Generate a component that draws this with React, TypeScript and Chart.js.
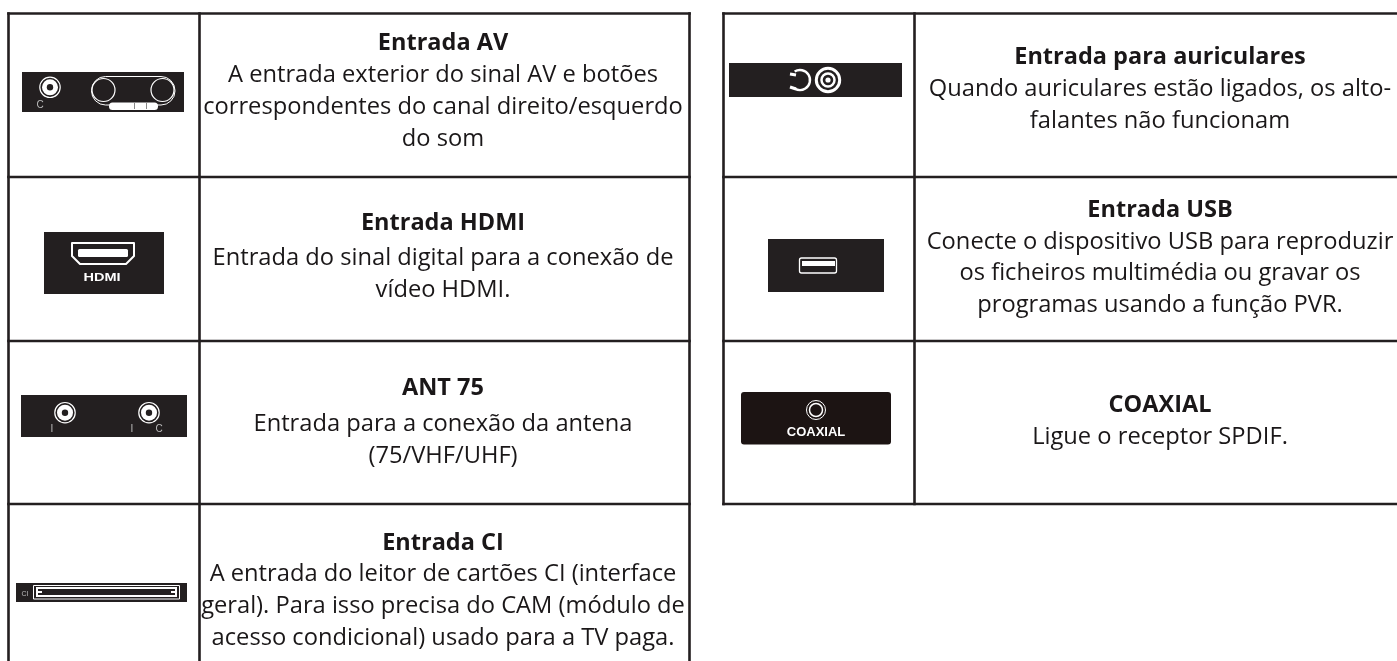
import React, { useEffect, useRef } from "react";
import { Chart, registerables } from "chart.js";

Chart.register(...registerables);

const leftRowEdges = [13.5, 177, 341, 504];
const leftColEdges = [8.5, 199.5, 689.5];
const rightRowEdges = [13.5, 177, 341, 504];
const rightColEdges = [723.5, 914.5, 1397];
const leftCenter = 443;
const rightCenter = 1160;

const leftRows = [
  { title: "Entrada AV", titleY: 50, lines: [["A entrada exterior do sinal AV e botões", 82], ["correspondentes do canal direito/esquerdo", 114], ["do som", 146]] },
  { title: "Entrada HDMI", titleY: 230, lines: [["Entrada do sinal digital para a conexão de", 265], ["vídeo HDMI.", 297]] },
  { title: "ANT 75", titleY: 395, lines: [["Entrada para a conexão da antena", 431], ["(75/VHF/UHF)", 463]] },
  { title: "Entrada CI", titleY: 550, lines: [["A entrada do leitor de cartões CI (interface", 581], ["geral). Para isso precisa do CAM (módulo de", 613], ["acesso condicional) usado para a TV paga.", 645]] },
];
const rightRows = [
  { title: "Entrada para auriculares", titleY: 64, lines: [["Quando auriculares estão ligados, os alto-", 96], ["falantes não funcionam", 128]] },
  { title: "Entrada USB", titleY: 217, lines: [["Conecte o dispositivo USB para reproduzir", 249], ["os ficheiros multimédia ou gravar os", 280], ["programas usando a função PVR.", 312]] },
  { title: "COAXIAL", titleY: 412, lines: [["Ligue o receptor SPDIF.", 444]] },
];
const panels = [
  [22, 72, 162, 40], [44, 232, 120, 62], [21, 395, 166, 42], [16, 583, 171, 19],
  [729, 63, 173, 34], [768, 239, 116, 53],
];
const jacks = [
  [50, 87.3], [65, 412.7], [149, 412.7],
];

function segments(cols: number[], rows: number[], bottom: number) {
  const out: { x: number; y: number }[][] = [];
  rows.forEach((y) => out.push([{ x: cols[0], y }, { x: cols[2], y }]));
  cols.forEach((x, i) => {
    if (i < 2 || x < 1397) out.push([{ x, y: rows[0] }, { x, y: bottom }]);
  });
  return out;
}

const INK = "#231f20";
const FONT = '"Open Sans", "Noto Sans", sans-serif';

const tablePlugin = {
  id: "table",
  afterDatasetsDraw(chart: any) {
    const { ctx, scales } = chart;
    const X = (v: number) => scales.x.getPixelForValue(v);
    const Y = (v: number) => scales.y.getPixelForValue(v);
    const circle = (x: number, y: number, r: number) => {
      ctx.beginPath();
      ctx.arc(X(x), Y(y), r, 0, Math.PI * 2);
    };
    ctx.save();
    ctx.textAlign = "center";
    ctx.textBaseline = "alphabetic";
    ctx.fillStyle = "#1a1718";
    const drawRows = (rows: any[], cx: number) => {
      rows.forEach((r) => {
        ctx.font = `700 23.5px ${FONT}`;
        ctx.fillText(r.title, X(cx), Y(r.titleY));
        ctx.font = `400 23.7px ${FONT}`;
        r.lines.forEach(([t, y]: [string, number]) => ctx.fillText(t, X(cx), Y(y)));
      });
    };
    drawRows(leftRows, leftCenter);
    drawRows(rightRows, rightCenter);

    // connector panels
    ctx.fillStyle = INK;
    panels.forEach(([x, y, w, h]) => ctx.fillRect(X(x), Y(y), w, h));
    ctx.fillStyle = "#1c1413";
    ctx.beginPath();
    ctx.roundRect(X(741), Y(392), 150, 52.5, 3);
    ctx.fill();

    // round jacks: outer ring, white disc, dark centre
    ctx.strokeStyle = "#fff";
    jacks.forEach(([x, y]) => {
      ctx.lineWidth = 1.2;
      circle(x, y, 10.2);
      ctx.stroke();
      ctx.fillStyle = "#fff";
      circle(x, y, 8);
      ctx.fill();
      ctx.fillStyle = INK;
      circle(x, y, 3.2);
      ctx.fill();
    });

    // headphone jack
    ctx.lineWidth = 3;
    circle(828, 80, 11.7);
    ctx.stroke();
    ctx.lineWidth = 2.5;
    circle(828, 80, 6.5);
    ctx.stroke();
    ctx.fillStyle = "#fff";
    circle(828, 80, 2.6);
    ctx.fill();

    // AV double jack
    ctx.lineWidth = 1;
    ctx.beginPath(); ctx.roundRect(X(91.5), Y(76.5), 83.5, 28.5, 14); ctx.stroke();
    ctx.lineWidth = 1.2;
    circle(103.5, 90, 11.5); ctx.stroke();
    circle(162.5, 90, 11.5); ctx.stroke();
    ctx.fillStyle = "#fff";
    ctx.beginPath(); ctx.roundRect(X(109), Y(102.5), 49, 7.5, 3.5); ctx.fill();
    ctx.fillStyle = "#888";
    ctx.fillRect(X(134), Y(103), 1, 6);
    ctx.fillRect(X(146), Y(103), 1, 6);

    // small labels
    ctx.fillStyle = "#bbb";
    ctx.font = '10px "Liberation Sans", sans-serif';
    ctx.fillText("C", X(40), Y(108));
    ctx.fillText("I", X(52), Y(432));
    ctx.fillText("I", X(132), Y(432));
    ctx.fillText("C", X(159), Y(432));
    ctx.font = '7px "Liberation Sans", sans-serif';
    ctx.fillText("CI", X(25), Y(596));

    // HDMI connector
    ctx.strokeStyle = "#fff";
    ctx.lineWidth = 2;
    ctx.lineJoin = "round";
    ctx.beginPath();
    ctx.moveTo(X(72), Y(243)); ctx.lineTo(X(134), Y(243)); ctx.lineTo(X(134), Y(256));
    ctx.lineTo(X(126), Y(264)); ctx.lineTo(X(80), Y(264)); ctx.lineTo(X(72), Y(256));
    ctx.closePath(); ctx.stroke();
    ctx.fillStyle = "#fff";
    ctx.beginPath(); ctx.roundRect(X(78), Y(249), 50, 8, 1.5); ctx.fill();
    ctx.font = '700 10px "Liberation Sans", sans-serif';
    ctx.save();
    ctx.translate(X(102), Y(281));
    ctx.scale(1.45, 1);
    ctx.fillText("HDMI", 0, 0);
    ctx.restore();

    // CI slot
    ctx.lineWidth = 1;
    ctx.strokeRect(X(33.5), Y(585.5), 146, 13.5);
    ctx.fillRect(X(36), Y(587), 141, 10);
    ctx.fillStyle = INK;
    ctx.fillRect(X(38), Y(589), 137, 6);
    ctx.fillStyle = "#fff";
    ctx.fillRect(X(38), Y(591), 4, 2);
    ctx.fillRect(X(171), Y(591), 4, 2);

    // headphone
    ctx.lineWidth = 2.4;
    ctx.beginPath(); ctx.arc(X(800), Y(80), 10, -Math.PI * 0.68, Math.PI * 0.68); ctx.stroke();
    ctx.lineWidth = 3;
    ctx.beginPath(); ctx.moveTo(X(790), Y(74)); ctx.lineTo(X(796), Y(75)); ctx.stroke();
    ctx.beginPath(); ctx.moveTo(X(790), Y(87)); ctx.lineTo(X(796), Y(89)); ctx.stroke();

    // USB
    ctx.lineWidth = 1.3;
    ctx.beginPath(); ctx.roundRect(X(799.5), Y(258), 37, 15, 2); ctx.stroke();
    ctx.fillRect(X(802), Y(261), 33, 5);

    // COAXIAL
    ctx.lineWidth = 1;
    circle(816, 410, 9.5); ctx.stroke();
    ctx.lineWidth = 1.5;
    circle(816, 410, 6.5); ctx.stroke();
    ctx.fillStyle = "#fff";
    ctx.font = '700 13px "Liberation Sans", sans-serif';
    ctx.fillText("COAXIAL", X(816), Y(436));
    ctx.restore();
  },
};

export default function App() {
  const ref = useRef<HTMLCanvasElement>(null);
  useEffect(() => {
    document.body.style.margin = "0";
    document.body.style.background = "#fff";
    const segs = [
      ...segments(leftColEdges, leftRowEdges, 661),
      ...segments(rightColEdges, rightRowEdges, 504),
    ];
    const chart = new Chart(ref.current!, {
      type: "scatter",
      data: {
        datasets: segs.map((data) => ({
          data,
          showLine: true,
          borderColor: INK,
          borderWidth: 2.6,
          pointRadius: 0,
          borderCapStyle: "square",
          clip: false,
        })) as any,
      },
      options: {
        responsive: false,
        animation: false,
        layout: { padding: 0 },
        plugins: { legend: { display: false }, tooltip: { enabled: false } },
        scales: {
          x: { type: "linear", min: 0, max: 1397, display: false },
          y: { type: "linear", min: 0, max: 661, reverse: true, display: false },
        },
      },
      plugins: [tablePlugin],
    });
    return () => chart.destroy();
  }, []);
  return <canvas ref={ref} width={1397} height={661} style={{ display: "block" }} />;
}
